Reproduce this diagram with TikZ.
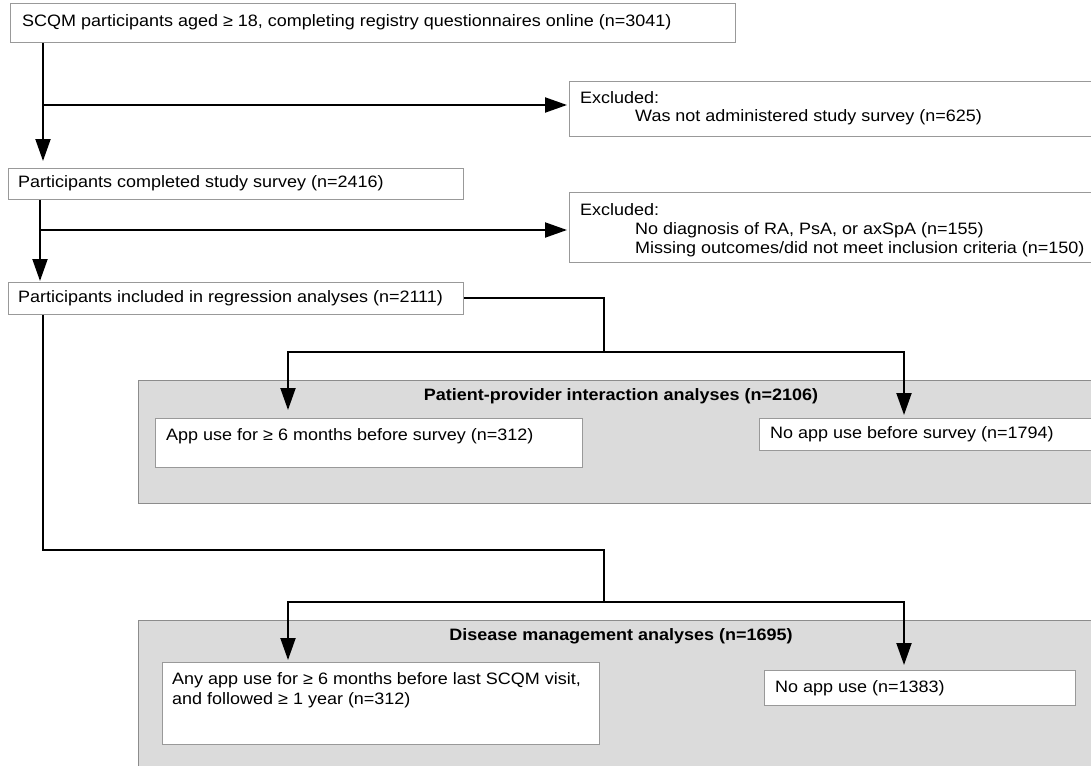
\documentclass[tikz,border=0pt]{standalone}
\usepackage{fontspec}
\setmainfont{Liberation Sans}
\newfontfamily\widefont[FakeStretch=1.09]{Liberation Sans}
\usetikzlibrary{arrows.meta,calc}
\begin{document}
\begin{tikzpicture}[x=1pt,y=-1pt,
  every node/.style={font=\widefont\fontsize{16.5}{20}\selectfont, inner sep=0pt},
  box/.style={draw=black!40, line width=0.8pt, fill=white, anchor=north west},
  panel/.style={draw=black!45, line width=0.8pt, fill=black!14, anchor=north west},
  txt/.style={anchor=west, align=left},
  conn/.style={line width=2pt, black},
  arr/.style={conn, -{Triangle[length=22pt,width=15pt]}},
  title/.style={font=\widefont\fontsize{16.5}{20}\selectfont\bfseries}
]
\useasboundingbox (0,0) rectangle (1091,765);
\fill[white] (0,0) rectangle (1091,765);

% boxes
\node[box, minimum width=725pt, minimum height=39pt] (b1) at (10,3) {};
\node[txt] (t1) at (22,22.5) {SCQM participants aged ≥ 18, completing registry questionnaires online (n=3041)};

\node[box, minimum width=540pt, minimum height=55pt] (e1) at (569,81) {};
\node[txt] (te1) at (580,98) {Excluded:};
\node[txt] (te1b) at (635,117) {Was not administered study survey (n=625)};

\node[box, minimum width=455pt, minimum height=31pt] (b2) at (8,168) {};
\node[txt] (t2) at (18,183.5) {Participants completed study survey (n=2416)};

\node[box, minimum width=540pt, minimum height=70pt] (e2) at (569,192) {};
\node[txt] (te2) at (580,210) {Excluded:};
\node[txt] (te2b) at (635,230) {No diagnosis of RA, PsA, or axSpA (n=155)};
\node[txt] (te2c) at (635,249) {Missing outcomes/did not meet inclusion criteria (n=150)};

\node[box, minimum width=455pt, minimum height=32pt] (b3) at (8,282) {};
\node[txt] (t3) at (18,298) {Participants included in regression analyses (n=2111)};

% panel 1
\node[panel, minimum width=960pt, minimum height=123pt] (p1) at (138,380) {};
\node[title] (pt1) at (621,396) {Patient-provider interaction analyses (n=2106)};
\node[box, minimum width=427pt, minimum height=49pt] (a1) at (155,418) {};
\node[txt] (ta1) at (166,436) {App use for ≥ 6 months before survey (n=312)};
\node[box, minimum width=340pt, minimum height=32pt] (a2) at (759,418) {};
\node[txt] (ta2) at (770,434) {No app use before survey (n=1794)};

% panel 2
\node[panel, minimum width=960pt, minimum height=160pt] (p2) at (138,620) {};
\node[title] (pt2) at (621,636) {Disease management analyses (n=1695)};
\node[box, minimum width=437pt, minimum height=82pt] (d1) at (162,662) {};
\node[txt] (td1) at (172,680) {Any app use for ≥ 6 months before last SCQM visit,};
\node[txt] (td1b) at (172,700) {and followed ≥ 1 year (n=312)};
\node[box, minimum width=311pt, minimum height=35pt] (d2) at (764,670) {};
\node[txt] (td2) at (775,688) {No app use (n=1383)};

% coordinates
\coordinate (c1) at (43,0);
\coordinate (c2) at (40,0);
\coordinate (c3) at (43,0);
\coordinate (m1) at (604,352);
\coordinate (m2) at (604,602);

% connectors
\draw[arr, shorten >=7pt] (b1.south -| c1) -- (b2.north -| c1);
\draw[arr, shorten >=2pt] (c1 |- 0,105) -- (e1.west |- 0,105);

\draw[arr, shorten >=1pt] (b2.south -| c2) -- (b3.north -| c2);
\draw[arr, shorten >=2pt] (c2 |- 0,230) -- (e2.west |- 0,230);

\draw[conn] (b3.east) -| (m1);
\draw[conn] (288,352) -- (904,352);
\draw[arr, shorten >=8pt] (288,351) -- (a1.north -| 288,0);
\draw[arr, shorten >=3pt] (904,351) -- (a2.north -| 904,0);

\draw[conn] (b3.south -| c3) |- (604,550) -- (m2);
\draw[conn] (288,602) -- (904,602);
\draw[arr, shorten >=2pt] (288,601) -- (d1.north -| 288,0);
\draw[arr, shorten >=5pt] (904,601) -- (d2.north -| 904,0);
\end{tikzpicture}
\end{document}
